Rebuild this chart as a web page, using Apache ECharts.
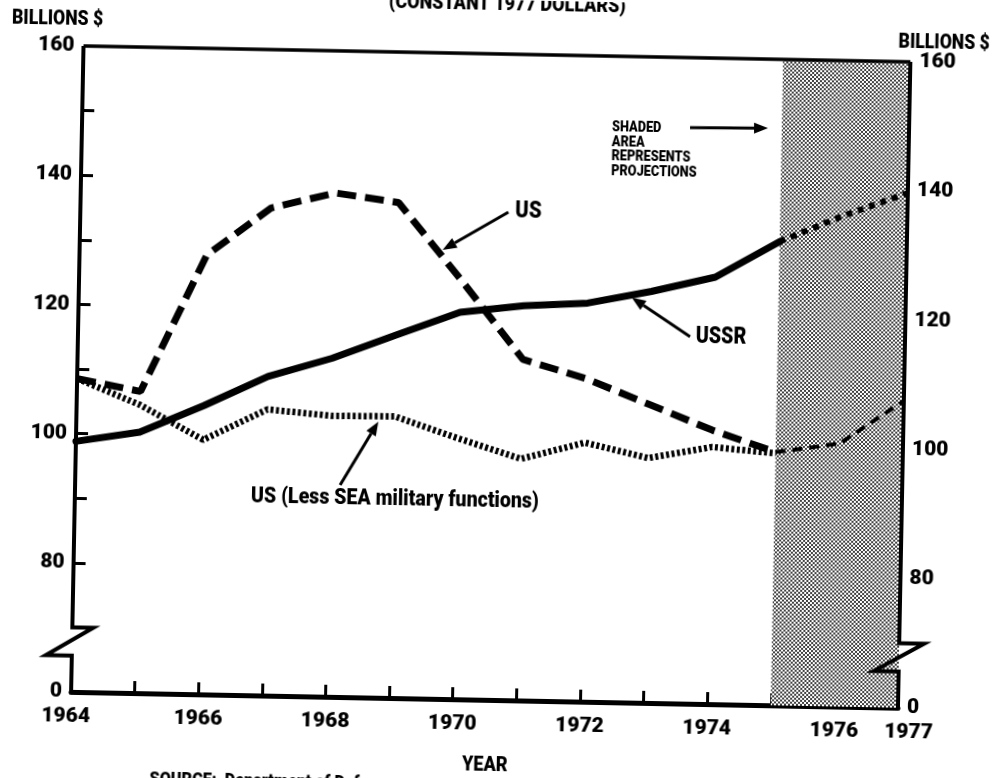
<!DOCTYPE html>
<html>
<head>
<meta charset="utf-8">
<script src="https://cdn.jsdelivr.net/npm/echarts@6/dist/echarts.min.js"></script>
<style>
html,body{margin:0;padding:0;background:#fff;overflow:hidden;width:996px;height:778px;}
#c{position:absolute;left:0;top:0;width:996px;height:800px;transform:rotate(1.1deg);transform-origin:498px 389px;}
</style>
</head>
<body>
<div id="c"></div>
<script>
// ---- data (billions of constant 1977 dollars) ----
const years = [1964,1965,1966,1967,1968,1969,1970,1971,1972,1973,1974,1975];
const projYears = [1975,1976,1977];
const ussr = [98.8,100.4,104.7,109.4,112.4,116.2,119.9,121.1,121.7,123.7,126.1,131.8];
const ussrProj = [131.8,136.0,139.7];
const us = [108.5,106.7,128.0,135.5,138.0,136.7,125.0,112.8,110.0,106.2,102.4,99.2];
const usProj = [99.2,100.7,107.5];
const usLessSea = [108.5,104.6,99.4,104.3,103.5,103.6,100.4,97.4,100.1,97.9,99.8,99.0];
const projectionSpan = [1975,1977];
const xTickLabels = [1964,1966,1968,1970,1972,1974,1976,1977];
const xMinorTicks = [1965,1966,1967,1968,1969,1970,1971,1972,1973,1974,1975,1976];
const yTickLabels = [60,80,100,120,140,160];   // 60 is the broken-axis origin, shown as "0"
const yMinorTicks = [80,90,100,110,120,130,140,150];
const axisBreak = [70,65.6];

const FONT = 'Roboto,"Liberation Sans",sans-serif';

function halftone(){
  const c=document.createElement('canvas'); c.width=4; c.height=4;
  const g=c.getContext('2d'); g.fillStyle='#fff'; g.fillRect(0,0,4,4);
  g.fillStyle='#000';
  [[1,1],[3,3]].forEach(([x,y])=>{g.beginPath();g.arc(x,y,1.0,0,Math.PI*2);g.fill();});
  return c;
}
const pair = (xs,ys)=>xs.map((x,i)=>[x,ys[i]]);
const lbl = {color:'#000',fontFamily:FONT,fontWeight:900,fontSize:21};

function yAxisDef(pos){
  return {
    type:'value', min:60, max:160, interval:10, position:pos,
    axisLine:{show:false},
    axisTick:{show:true,inside:true,length:12,customValues:yMinorTicks,lineStyle:{color:'#000',width:3}},
    axisLabel:Object.assign({customValues:yTickLabels,margin:9,formatter:v=>v===60?'0':String(v)},lbl),
    splitLine:{show:false}
  };
}

const chart = echarts.init(document.getElementById('c'),null,{renderer:'canvas'});
const option = {
  animation:false,
  backgroundColor:'#fff',
  grid:{left:77,right:92,top:54,bottom:100},
  xAxis:{
    type:'value',min:1964,max:1977,interval:1,
    axisLine:{show:true,lineStyle:{color:'#000',width:5}},
    axisTick:{show:true,inside:true,length:12,customValues:xMinorTicks,lineStyle:{color:'#000',width:3}},
    axisLabel:Object.assign({customValues:xTickLabels,margin:14,
      formatter:v=>v===1977?'{r|1977}':(v===1964?'{l|1964}':String(v)),
      rich:{r:Object.assign({padding:[0,0,0,22]},lbl),l:Object.assign({padding:[0,10,0,0]},lbl)}},lbl),
    splitLine:{show:false}
  },
  yAxis:[yAxisDef('left'),yAxisDef('right')],
  series:[
    {name:'Projections',type:'line',data:[],silent:true,z:1,
     markArea:{silent:true,itemStyle:{color:{image:halftone(),repeat:'repeat'},opacity:1,borderWidth:0},
       data:[[{xAxis:projectionSpan[0]},{xAxis:projectionSpan[1]}]]}},
    {name:'US (Less SEA military functions)',type:'line',data:pair(years,usLessSea),symbol:'none',silent:true,z:4,
     lineStyle:{color:'#000',width:6.5,type:[3,2.5],cap:'butt'}},
    {name:'US',type:'line',data:pair(years,us),symbol:'none',silent:true,z:4,
     lineStyle:{color:'#000',width:7,type:[19,9],cap:'butt'}},
    {name:'US projection',type:'line',data:pair(projYears,usProj),symbol:'none',silent:true,z:4,
     lineStyle:{color:'#000',width:4,type:[10,7],cap:'butt'}},
    {name:'USSR',type:'line',data:pair(years,ussr),symbol:'none',silent:true,z:5,
     lineStyle:{color:'#000',width:7,cap:'round',join:'round'}},
    {name:'USSR projection',type:'line',data:pair(projYears,ussrProj),symbol:'none',silent:true,z:5,
     lineStyle:{color:'#000',width:6,type:[6,6],cap:'butt'}}
  ]
};
chart.setOption(option);

function arrow(x1,y1,x2,y2,w,hl,hw){
  w=w||3; hl=hl||14; hw=hw||5.5;
  const a=Math.atan2(y2-y1,x2-x1);
  const bx=x2-hl*Math.cos(a), by=y2-hl*Math.sin(a);
  const px=-Math.sin(a)*hw, py=Math.cos(a)*hw;
  return [
    {type:'line',shape:{x1:x1,y1:y1,x2:bx,y2:by},style:{stroke:'#000',lineWidth:w},z:30},
    {type:'polygon',shape:{points:[[x2,y2],[bx+px,by+py],[bx-px,by-py]]},style:{fill:'#000'},z:30}
  ];
}
// text anchored at (x,y), horizontally condensed by sx around the anchor
function txt(text,x,y,size,sx,align,valign,lh){
  return {type:'text',z:30,x:x,y:y,scaleX:sx,
    style:{text:text,x:0,y:0,fill:'#000',fontFamily:FONT,fontWeight:900,fontSize:size,lineHeight:lh||size,
      align:align||'center',verticalAlign:valign||'middle'}};
}
const P=(x,y)=>chart.convertToPixel({gridIndex:0},[x,y]);
function axisPath(xv,jog,back){
  const t=P(xv,160), a=P(xv,axisBreak[0]), b=P(xv,axisBreak[1]), o=P(xv,60);
  return [t,a,[a[0]+jog,a[1]],[b[0]-back,b[1]],b,o];
}
const lt=P(1964,160), rt=P(1977,160);
const frame={stroke:'#000',lineWidth:4,fill:null,lineJoin:'miter'};
const g=[
  {type:'polyline',shape:{points:axisPath(1964,21,26)},style:frame,z:25},
  {type:'polyline',shape:{points:axisPath(1977,25,25)},style:frame,z:25},
  {type:'line',shape:{x1:lt[0],y1:lt[1],x2:rt[0],y2:rt[1]},style:{stroke:'#000',lineWidth:3.5},z:25},
  txt('(CONSTANT 1977 DOLLARS)',500,5,20,0.9),
  txt('BILLIONS $',5,28,20,0.88,'left'),
  txt('BILLIONS $',983,35,20,0.88,'right'),
  txt('YEAR',492,766,20,0.9),
  txt('SOURCE:  Department of Defense',157,786,18,0.9,'left'),
  txt('SHADED\nAREA\nREPRESENTS\nPROJECTIONS',607,118,15,0.85,'left','top',14.6),
  txt('US',525,211,24,0.85),
  txt('USSR',720,333,24,0.82),
  txt('US (Less SEA military functions)',397,501,22,0.89)
].concat(arrow(685,124,763,123))
 .concat(arrow(505,212,440,251))
 .concat(arrow(689,333,630,295))
 .concat(arrow(342,488,379,424));
chart.setOption({graphic:{elements:g}});
</script>
</body>
</html>
